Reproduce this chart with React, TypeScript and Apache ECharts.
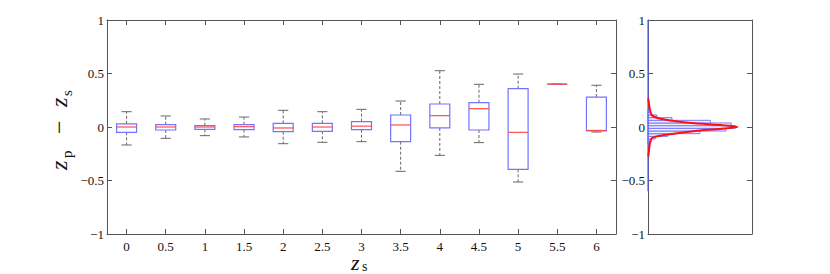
import React, { useEffect, useRef } from 'react';
import * as echarts from 'echarts';

// ---- data ----
const categories = ['0', '0.5', '1', '1.5', '2', '2.5', '3', '3.5', '4', '4.5', '5', '5.5', '6'];
const whiskerLow = [-0.168, -0.106, -0.081, -0.093, -0.156, -0.143, -0.137, -0.414, -0.265, -0.146, -0.514, 0.4, -0.047];
const q1 = [-0.05, -0.028, -0.022, -0.025, -0.044, -0.04, -0.025, -0.137, -0.009, -0.028, -0.396, 0.4, -0.036];
const median = [0, 0, 0, 0.003, -0.009, 0, 0.008, 0.019, 0.106, 0.171, -0.05, 0.4, -0.032];
const q3 = [0.03, 0.022, 0.012, 0.022, 0.034, 0.034, 0.05, 0.112, 0.215, 0.227, 0.358, 0.4, 0.28];
const whiskerHigh = [0.143, 0.103, 0.075, 0.093, 0.156, 0.143, 0.165, 0.243, 0.526, 0.399, 0.495, 0.4, 0.39];

const yMin = -1;
const yMax = 1;
const yInterval = 0.5;

// histogram (right panel): bin centres and normalised counts
const histBinWidth = 0.025;
const histCenters = [-0.15, -0.125, -0.1, -0.075, -0.05, -0.025, 0, 0.025, 0.05, 0.075, 0.1, 0.125, 0.15];
const histCounts = [0.01, 0.03, 0.07, 0.19, 0.5, 0.75, 0.84, 0.8, 0.6, 0.23, 0.085, 0.03, 0.01];
const histRange = [-0.6, 1.0]; // extent of (mostly empty) bins

// fitted curve
const curveY = [0.268, 0.2, 0.175, 0.112, 0.081, 0.059, 0.034, 0.019, 0, -0.019, -0.037, -0.065, -0.084, -0.106, -0.168, -0.22, -0.277];
const curveX = [0.003, 0.012, 0.016, 0.035, 0.1, 0.23, 0.45, 0.68, 0.86, 0.68, 0.45, 0.23, 0.1, 0.035, 0.016, 0.01, 0.003];

const FONT = 'Liberation Serif';
const AXIS_COLOR = '#555';
const BOX_COLOR = '#7373ff';
const MED_COLOR = '#ff4d4d';
const WHISK_COLOR = '#666';

const fmt = (v: number) => (v < 0 ? '\u2212' + String(Math.abs(v)) : String(v));

const txt = (text: string, x: number, y: number, size: number, italic: boolean) => ({
  type: 'text', x, y,
  style: {
    text, fontFamily: FONT, fontSize: size, fontStyle: italic ? 'italic' : 'normal',
    fill: '#111', verticalAlign: 'middle', align: 'left',
  },
});

export default function App() {
  const ref = useRef<HTMLDivElement>(null);
  useEffect(() => {
    const chart = echarts.init(ref.current!, null, { renderer: 'svg' });

    const axisLine = { show: true, onZero: false, lineStyle: { color: AXIS_COLOR, width: 1 } };
    const tickIn = { show: true, inside: true, length: 5, lineStyle: { color: AXIS_COLOR } };
    const labelStyle = { fontFamily: FONT, fontSize: 13, color: '#111' };

    const option: any = {
      animation: false,
      textStyle: { fontFamily: FONT },
      grid: [
        { left: 107, top: 20, width: 509, height: 214 },
        { left: 648, top: 20, width: 104, height: 214 },
      ],
      xAxis: [
        {
          type: 'category', gridIndex: 0, position: 'bottom', data: categories, boundaryGap: true,
          axisLine, axisTick: { ...tickIn, alignWithLabel: true },
          axisLabel: { ...labelStyle, margin: 6 }, splitLine: { show: false },
        },
        {
          type: 'category', gridIndex: 0, position: 'top', data: categories, boundaryGap: true,
          axisLine, axisTick: { ...tickIn, alignWithLabel: true },
          axisLabel: { show: false }, splitLine: { show: false },
        },
        {
          type: 'value', gridIndex: 1, position: 'bottom', min: 0, max: 1,
          axisLine, axisTick: { show: false }, axisLabel: { show: false }, splitLine: { show: false },
        },
        {
          type: 'value', gridIndex: 1, position: 'top', min: 0, max: 1,
          axisLine, axisTick: { show: false }, axisLabel: { show: false }, splitLine: { show: false },
        },
      ],
      yAxis: [
        {
          type: 'value', gridIndex: 0, position: 'left', min: yMin, max: yMax, interval: yInterval,
          axisLine, axisTick: tickIn, axisLabel: { ...labelStyle, margin: 3, formatter: fmt }, splitLine: { show: false },
        },
        {
          type: 'value', gridIndex: 0, position: 'right', min: yMin, max: yMax, interval: yInterval,
          axisLine, axisTick: tickIn, axisLabel: { show: false }, splitLine: { show: false },
        },
        {
          type: 'value', gridIndex: 1, position: 'left', min: yMin, max: yMax, interval: yInterval,
          axisLine, axisTick: tickIn, axisLabel: { ...labelStyle, margin: 3, formatter: fmt }, splitLine: { show: false },
        },
        {
          type: 'value', gridIndex: 1, position: 'right', min: yMin, max: yMax, interval: yInterval,
          axisLine, axisTick: tickIn, axisLabel: { show: false }, splitLine: { show: false },
        },
      ],
      series: [
        {
          type: 'custom', xAxisIndex: 0, yAxisIndex: 0,
          data: categories.map((_, i) => [i, whiskerLow[i], q1[i], median[i], q3[i], whiskerHigh[i]]),
          encode: { x: 0, y: [1, 2, 3, 4, 5] },
          renderItem: (params: any, api: any) => {
            const i = api.value(0);
            const pLo = api.coord([i, api.value(1)]);
            const pQ1 = api.coord([i, api.value(2)]);
            const pMed = api.coord([i, api.value(3)]);
            const pQ3 = api.coord([i, api.value(4)]);
            const pHi = api.coord([i, api.value(5)]);
            const band = api.size([1, 0])[0];
            const bw = band * 0.51;
            const cw = band * 0.26;
            const cx = pMed[0];
            const dash = { stroke: WHISK_COLOR, lineWidth: 1, lineDash: [3, 2] };
            const solid = { stroke: WHISK_COLOR, lineWidth: 1 };
            return {
              type: 'group',
              children: [
                { type: 'line', shape: { x1: cx, y1: pQ3[1], x2: cx, y2: pHi[1] }, style: dash },
                { type: 'line', shape: { x1: cx, y1: pQ1[1], x2: cx, y2: pLo[1] }, style: dash },
                { type: 'line', shape: { x1: cx - cw / 2, y1: pHi[1], x2: cx + cw / 2, y2: pHi[1] }, style: solid },
                { type: 'line', shape: { x1: cx - cw / 2, y1: pLo[1], x2: cx + cw / 2, y2: pLo[1] }, style: solid },
                {
                  type: 'rect',
                  shape: { x: cx - bw / 2, y: pQ3[1], width: bw, height: pQ1[1] - pQ3[1] },
                  style: { fill: 'none', stroke: BOX_COLOR, lineWidth: 1.2 },
                },
                {
                  type: 'line',
                  shape: { x1: cx - bw / 2, y1: pMed[1], x2: cx + bw / 2, y2: pMed[1] },
                  style: { stroke: MED_COLOR, lineWidth: 1.2 },
                },
              ],
            };
          },
        },
        {
          type: 'line', xAxisIndex: 2, yAxisIndex: 2, symbol: 'none',
          data: [[0, histRange[0]], [0, histRange[1]]],
          lineStyle: { color: '#5a5aff', width: 1.2 },
        },
        {
          type: 'custom', xAxisIndex: 2, yAxisIndex: 2,
          data: histCenters.map((c, i) => [histCounts[i], c]),
          encode: { x: 0, y: 1 },
          renderItem: (params: any, api: any) => {
            const cnt = api.value(0);
            const c = api.value(1);
            const pA = api.coord([0, c + histBinWidth / 2]);
            const pB = api.coord([cnt, c - histBinWidth / 2]);
            return {
              type: 'rect',
              shape: { x: pA[0], y: pA[1], width: pB[0] - pA[0], height: pB[1] - pA[1] },
              style: { fill: '#eef0ff', stroke: '#7a7aff', lineWidth: 1 },
            };
          },
        },
        {
          type: 'line', xAxisIndex: 2, yAxisIndex: 2, symbol: 'none', smooth: 0.25, z: 5,
          data: curveX.map((x, i) => [x, curveY[i]]),
          lineStyle: { color: '#ff1010', width: 2 },
        },
      ],
      graphic: [
        {
          type: 'group', x: 59, y: 127, rotation: Math.PI / 2,
          children: [
            txt('z', -43, 0, 24, true),
            txt('p', -31, 7.5, 15, false),
            txt('\u2212', -7, 0, 24, false),
            txt('z', 20, 0, 24, true),
            txt('s', 31, 7.5, 15, false),
          ],
        },
        {
          type: 'group', x: 351, y: 262,
          children: [
            txt('z', 0, 0, 22, true),
            txt('s', 11, 4.5, 14, false),
          ],
        },
      ],
    };
    chart.setOption(option);
    return () => chart.dispose();
  }, []);
  return <div ref={ref} style={{ position: 'absolute', left: 0, top: 0, width: 830, height: 274 }} />;
}
